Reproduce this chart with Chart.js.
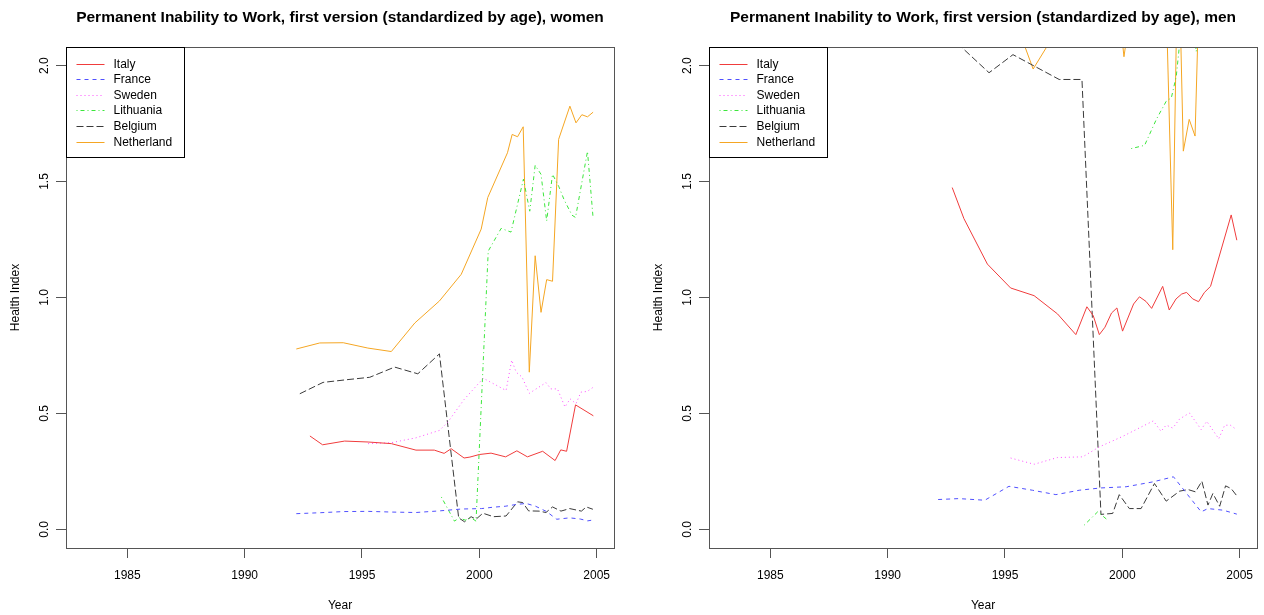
<!DOCTYPE html>
<html>
<head>
<meta charset="utf-8">
<script src="https://cdn.jsdelivr.net/npm/chart.js@4.4.1/dist/chart.umd.min.js"></script>
<style>
  body { margin: 0; background: #fff; }
  .panel { position: absolute; top: 0; width: 632px; height: 615px; }
  #womenPanel { left: 0; }
  #menPanel { left: 632px; }
</style>
</head>
<body>
<div class="panel" id="womenPanel"><canvas id="women" width="632" height="615"></canvas></div>
<div class="panel" id="menPanel"><canvas id="men" width="632" height="615"></canvas></div>
<script>
const countries = ["Italy", "France", "Sweden", "Lithuania", "Belgium", "Netherland"];

const xTickLabels = [1985, 1990, 1995, 2000, 2005];
const yTickLabels = ["0.0", "0.5", "1.0", "1.5", "2.0"];

// women
const italyWomenYears = [1992.78, 1993.32, 1994.26, 1995.26, 1996.25, 1997.3, 1998.08, 1998.5, 1998.8, 1999.35, 1999.6, 2000.0, 2000.5, 2001.12, 2001.6, 2002.05, 2002.7, 2003.23, 2003.47, 2003.72, 2004.1, 2004.86];
const italyWomenValues = [0.403, 0.365, 0.381, 0.377, 0.37, 0.342, 0.342, 0.328, 0.348, 0.308, 0.312, 0.323, 0.329, 0.313, 0.339, 0.313, 0.337, 0.297, 0.343, 0.337, 0.537, 0.49];
const franceWomenYears = [1992.2, 1993.2, 1994.2, 1995.25, 1996.25, 1997.3, 1998.3, 1999.23, 2000.1, 2000.6, 2001.1, 2001.6, 2002.0, 2002.4, 2002.85, 2003.3, 2003.85, 2004.3, 2004.62, 2004.86];
const franceWomenValues = [0.068, 0.072, 0.077, 0.078, 0.075, 0.073, 0.08, 0.088, 0.09, 0.096, 0.1, 0.108, 0.112, 0.1, 0.078, 0.044, 0.05, 0.045, 0.037, 0.041];
const swedenWomenYears = [1995.26, 1996.25, 1997.3, 1998.3, 1998.66, 1999.35, 2000.17, 2001.14, 2001.38, 2001.57, 2001.82, 2002.13, 2002.84, 2003.05, 2003.33, 2003.65, 2003.87, 2004.12, 2004.33, 2004.6, 2004.84];
const swedenWomenValues = [0.37, 0.374, 0.395, 0.427, 0.463, 0.56, 0.652, 0.599, 0.73, 0.678, 0.657, 0.587, 0.633, 0.606, 0.606, 0.528, 0.563, 0.542, 0.592, 0.595, 0.612];
const lithuaniaWomenYears = [1998.38, 1998.94, 1999.15, 1999.4, 1999.65, 1999.86, 2000.38, 2000.93, 2001.35, 2001.88, 2002.15, 2002.38, 2002.63, 2002.87, 2003.12, 2003.38, 2003.62, 2003.95, 2004.1, 2004.61, 2004.85];
const lithuaniaWomenValues = [0.14, 0.036, 0.05, 0.04, 0.05, 0.036, 1.2, 1.298, 1.282, 1.51, 1.372, 1.57, 1.531, 1.33, 1.531, 1.48, 1.42, 1.355, 1.345, 1.63, 1.342];
const belgiumWomenYears = [1992.35, 1993.34, 1994.3, 1995.33, 1996.39, 1997.38, 1998.3, 1999.12, 1999.37, 1999.65, 1999.86, 2000.15, 2000.6, 2001.14, 2001.63, 2001.85, 2002.1, 2002.55, 2002.84, 2003.12, 2003.48, 2003.85, 2004.35, 2004.56, 2004.84];
const belgiumWomenValues = [0.585, 0.634, 0.645, 0.656, 0.7, 0.671, 0.757, 0.05, 0.033, 0.055, 0.044, 0.07, 0.055, 0.058, 0.119, 0.116, 0.08, 0.079, 0.073, 0.097, 0.079, 0.09, 0.079, 0.097, 0.087];
const netherlandWomenYears = [1992.2, 1993.2, 1994.2, 1995.25, 1996.25, 1997.25, 1998.3, 1999.23, 2000.08, 2000.36, 2001.2, 2001.4, 2001.63, 2001.87, 2002.13, 2002.38, 2002.63, 2002.87, 2003.12, 2003.38, 2003.86, 2004.12, 2004.37, 2004.61, 2004.85];
const netherlandWomenValues = [0.778, 0.804, 0.805, 0.782, 0.767, 0.89, 0.985, 1.1, 1.295, 1.431, 1.624, 1.703, 1.693, 1.736, 0.678, 1.18, 0.936, 1.077, 1.07, 1.682, 1.825, 1.753, 1.788, 1.779, 1.799];

// men
const italyMenYears = [1992.75, 1993.25, 1994.25, 1995.24, 1996.24, 1997.24, 1998.02, 1998.49, 1998.76, 1999.02, 1999.26, 1999.54, 1999.77, 2000.01, 2000.48, 2000.73, 2001.01, 2001.25, 2001.72, 2002.0, 2002.29, 2002.53, 2002.74, 2003.0, 2003.25, 2003.5, 2003.76, 2004.64, 2004.88];
const italyMenValues = [1.474, 1.34, 1.144, 1.041, 1.008, 0.929, 0.84, 0.96, 0.922, 0.84, 0.872, 0.933, 0.955, 0.855, 0.972, 1.003, 0.983, 0.953, 1.048, 0.946, 0.994, 1.015, 1.022, 0.994, 0.982, 1.022, 1.048, 1.356, 1.247];
const franceMenYears = [1992.15, 1993.03, 1994.14, 1995.17, 1996.17, 1997.17, 1998.16, 1999.09, 2000.16, 2001.3, 2002.18, 2003.36, 2003.65, 2004.3, 2004.88];
const franceMenValues = [0.129, 0.133, 0.126, 0.186, 0.169, 0.15, 0.169, 0.179, 0.184, 0.205, 0.227, 0.076, 0.09, 0.083, 0.066];
const swedenMenYears = [1995.24, 1996.24, 1997.24, 1998.31, 1999.02, 2000.01, 2001.32, 2001.65, 2001.87, 2002.15, 2002.44, 2002.86, 2003.36, 2003.6, 2004.11, 2004.36, 2004.6, 2004.86];
const swedenMenValues = [0.308, 0.281, 0.31, 0.313, 0.356, 0.401, 0.468, 0.423, 0.45, 0.437, 0.476, 0.502, 0.431, 0.466, 0.391, 0.449, 0.45, 0.431];
const lithuaniaMenYears = [1998.38, 1998.95, 1999.38, 1999.9, 2000.38, 2000.95, 2001.45, 2001.87, 2002.09, 2002.3, 2002.55, 2002.85, 2003.15, 2003.4];
const lithuaniaMenValues = [0.019, 0.076, 0.04, null, 1.642, 1.656, 1.768, 1.846, 1.861, 1.954, 2.2, 2.4, 2.06, 2.3];
const belgiumMenYears = [1992.2, 1993.18, 1994.32, 1995.34, 1997.31, 1998.28, 1999.09, 1999.59, 1999.87, 2000.3, 2000.8, 2001.37, 2001.87, 2002.44, 2002.8, 2003.12, 2003.39, 2003.65, 2003.86, 2004.15, 2004.4, 2004.64, 2004.88];
const belgiumMenValues = [2.3, 2.076, 1.969, 2.047, 1.94, 1.94, 0.065, 0.069, 0.15, 0.09, 0.09, 0.198, 0.122, 0.165, 0.172, 0.162, 0.208, 0.105, 0.155, 0.1, 0.188, 0.176, 0.145];
const netherlandMenYears = [1995.2, 1996.2, 1997.2, 1999.8, 2000.07, 2000.3, 2001.9, 2002.15, 2002.38, 2002.6, 2002.85, 2003.1, 2003.35];
const netherlandMenValues = [2.26, 1.985, 2.15, 2.3, 2.038, 2.2, 2.16, 1.206, 2.6, 1.631, 1.768, 1.696, 2.6];

// line look per country, same order as countries
const lineColors = ["#f03c3c", "#5050ff", "#ff4cff", "#3ce63c", "#3a3a3a", "#f5a623"];
const lineDashes = [[], [4, 4], [1, 3], [1, 3, 4, 3], [7, 3], []];

const FONT = '"Liberation Sans", Arial, Helvetica, sans-serif';
const AXIS_COLOR = "#555";

function makeDatasets(yearsList, valuesList) {
  return countries.map((name, i) => ({
    label: name,
    data: yearsList[i].map((x, j) => ({ x: x, y: valuesList[i][j] })),
    borderColor: lineColors[i],
    borderDash: lineDashes[i],
    borderWidth: 1,
    pointRadius: 0,
    fill: false,
    tension: 0,
    spanGaps: false,
  }));
}

// box, rotated y labels and the legend, drawn like base R graphics
const panelDecor = {
  id: "panelDecor",
  afterDraw(chart) {
    const ctx = chart.ctx;
    const area = chart.chartArea;
    const yScale = chart.scales.y;
    ctx.save();

    ctx.strokeStyle = AXIS_COLOR;
    ctx.lineWidth = 1;
    ctx.strokeRect(Math.round(area.left) + 0.5, Math.round(area.top) + 0.5,
      Math.round(area.right - area.left), Math.round(area.bottom - area.top));

    ctx.fillStyle = "#000";
    ctx.font = "12px " + FONT;
    ctx.textAlign = "center";
    ctx.textBaseline = "middle";
    yScale.ticks.forEach((t, i) => {
      const py = yScale.getPixelForValue(t.value);
      ctx.save();
      ctx.translate(area.left - 21, py);
      ctx.rotate(-Math.PI / 2);
      ctx.fillText(yTickLabels[i], 0, 0);
      ctx.restore();
    });

    // legend
    const lx = Math.round(area.left) + 0.5;
    const ly = Math.round(area.top) + 0.5;
    const lw = 118, lh = 110;
    ctx.fillStyle = "#fff";
    ctx.fillRect(lx, ly, lw, lh);
    ctx.strokeStyle = "#000";
    ctx.strokeRect(lx, ly, lw, lh);
    ctx.textAlign = "left";
    chart.data.datasets.forEach((ds, i) => {
      const ry = Math.round(ly + 16 + i * 15.6) + 0.5;
      ctx.strokeStyle = ds.borderColor;
      ctx.setLineDash(ds.borderDash);
      ctx.beginPath();
      ctx.moveTo(lx + 10, ry);
      ctx.lineTo(lx + 38, ry);
      ctx.stroke();
      ctx.setLineDash([]);
      ctx.fillStyle = "#000";
      ctx.fillText(ds.label, lx + 47, ry);
    });
    ctx.restore();
  },
};

function panelOptions(titleText, padLeft, padRight) {
  return {
    responsive: false,
    animation: false,
    devicePixelRatio: 1,
    layout: { padding: { left: padLeft, right: padRight, top: 0, bottom: 0 } },
    plugins: {
      legend: { display: false },
      tooltip: { enabled: false },
      title: {
        display: true,
        text: titleText,
        fullSize: false,
        color: "#000",
        font: { family: FONT, size: 15.5, weight: "bold" },
        padding: { top: 8.7, bottom: 19.7 },
      },
    },
    scales: {
      x: {
        type: "linear",
        min: 1982.385,
        max: 2005.74,
        afterFit: (s) => { s.height = 67; },
        afterBuildTicks: (s) => { s.ticks = xTickLabels.map((v) => ({ value: v })); },
        border: { display: false },
        grid: { drawOnChartArea: false, drawTicks: true, tickLength: 10, color: AXIS_COLOR },
        ticks: {
          color: "#000",
          font: { family: FONT, size: 12 },
          padding: 10,
          maxRotation: 0,
          autoSkip: false,
          callback: (v) => String(v),
        },
        title: {
          display: true,
          text: "Year",
          color: "#000",
          font: { family: FONT, size: 12 },
          padding: { top: 0, bottom: 2 },
        },
      },
      y: {
        type: "linear",
        min: -0.08,
        max: 2.08,
        afterFit: (s) => { s.width = 66; },
        afterBuildTicks: (s) => { s.ticks = yTickLabels.map((v) => ({ value: parseFloat(v) })); },
        border: { display: false },
        grid: { drawOnChartArea: false, drawTicks: true, tickLength: 10, color: AXIS_COLOR },
        ticks: { display: false },
        title: {
          display: true,
          text: "Health Index",
          color: "#000",
          font: { family: FONT, size: 12 },
          padding: { top: 8, bottom: 0 },
        },
      },
    },
  };
}

new Chart(document.getElementById("women").getContext("2d"), {
  type: "line",
  data: {
    datasets: makeDatasets(
      [italyWomenYears, franceWomenYears, swedenWomenYears, lithuaniaWomenYears, belgiumWomenYears, netherlandWomenYears],
      [italyWomenValues, franceWomenValues, swedenWomenValues, lithuaniaWomenValues, belgiumWomenValues, netherlandWomenValues]
    ),
  },
  options: panelOptions("Permanent Inability to Work, first version (standardized by age), women", 0, 18),
  plugins: [panelDecor],
});

new Chart(document.getElementById("men").getContext("2d"), {
  type: "line",
  data: {
    datasets: makeDatasets(
      [italyMenYears, franceMenYears, swedenMenYears, lithuaniaMenYears, belgiumMenYears, netherlandMenYears],
      [italyMenValues, franceMenValues, swedenMenValues, lithuaniaMenValues, belgiumMenValues, netherlandMenValues]
    ),
  },
  options: panelOptions("Permanent Inability to Work, first version (standardized by age), men", 11, 7),
  plugins: [panelDecor],
});
</script>
</body>
</html>
